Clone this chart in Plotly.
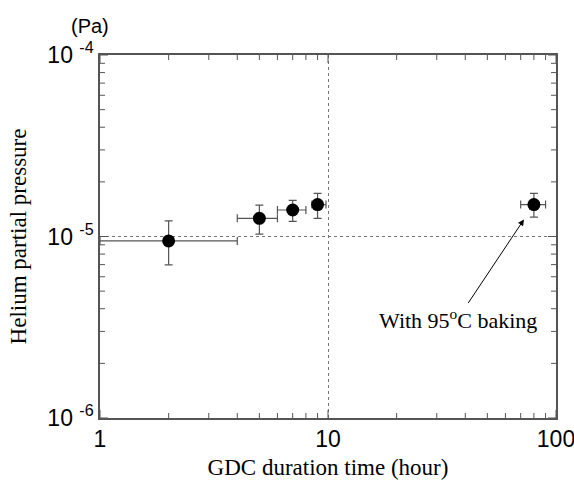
import math
import plotly.graph_objects as go

# Data
gdc_hours = [2, 5, 7, 9, 80]
helium_pa = [9.45e-6, 1.26e-5, 1.40e-5, 1.50e-5, 1.50e-5]
y_err_plus = [2.75e-6, 2.3e-6, 1.8e-6, 2.3e-6, 2.3e-6]
y_err_minus = [2.48e-6, 2.3e-6, 1.9e-6, 2.4e-6, 2.2e-6]
x_err_plus = [2.0, 1.0, 1.0, 0.8, 10.0]
x_err_minus = [1.0, 1.0, 1.0, 0.5, 10.0]

x_range = [1, 100]
y_range = [1e-6, 1e-4]
x_tickvals = [1, 10, 100]
x_ticktext = ["1", "10", "100"]
x_minor = [2, 3, 4, 5, 6, 7, 8, 9, 20, 30, 40, 50, 60, 70, 80, 90]
y_tickvals = [1e-6, 1e-5, 1e-4]
y_ticktext = ["10 <sup>-6</sup>", "10 <sup>-5</sup>", "10 <sup>-4</sup>"]
y_minor = [m * 1e-6 for m in range(2, 10)] + [m * 1e-5 for m in range(2, 10)]

annot_text = "With 95<sup>o</sup>C baking"
annot_point = (80, 1.5e-5)

W, H = 574, 484
M = dict(l=100, r=18, t=55, b=66)
AXIS_COLOR = "#555555"
SANS = "Liberation Sans, Arial, Helvetica, sans-serif"
SERIF = "Liberation Serif, Times New Roman, serif"

lx0, lx1 = math.log10(x_range[0]), math.log10(x_range[1])
ly0, ly1 = math.log10(y_range[0]), math.log10(y_range[1])
# decades per pixel, used to turn a tick length in pixels into axis units
dx = (lx1 - lx0) / (W - M["l"] - M["r"])
dy = (ly1 - ly0) / (H - M["t"] - M["b"])

fig = go.Figure()

# inside tick marks on all four sides, as one line trace with gaps
tx, ty = [], []
for vals, ln in ((x_minor, 5), (x_tickvals, 8)):
    for v in vals:
        tx += [v, v, None, v, v, None]
        ty += [y_range[0], 10 ** (ly0 + ln * dy), None,
               y_range[1], 10 ** (ly1 - ln * dy), None]
for vals, ln in ((y_minor, 5), (y_tickvals, 8)):
    for v in vals:
        tx += [x_range[0], 10 ** (lx0 + ln * dx), None,
               x_range[1], 10 ** (lx1 - ln * dx), None]
        ty += [v, v, None, v, v, None]
fig.add_trace(go.Scatter(x=tx, y=ty, mode="lines", connectgaps=False,
                         line=dict(color=AXIS_COLOR, width=1),
                         hoverinfo="skip", showlegend=False))

fig.add_trace(go.Scatter(
    x=gdc_hours, y=helium_pa, mode="markers",
    marker=dict(size=13, color="black"),
    error_y=dict(type="data", symmetric=False, array=y_err_plus, arrayminus=y_err_minus,
                 color="#555555", thickness=1.2, width=4),
    error_x=dict(type="data", symmetric=False, array=x_err_plus, arrayminus=x_err_minus,
                 color="#555555", thickness=1.2, width=4),
    showlegend=False,
))

fig.add_annotation(
    x=math.log10(annot_point[0]), y=math.log10(annot_point[1]), xref="x", yref="y",
    text=annot_text, showarrow=True, arrowhead=2, arrowsize=1.2, arrowwidth=1,
    arrowcolor="black", ax=-76, ay=114, standoff=18,
    font=dict(family=SERIF, size=22, color="black"),
)

fig.add_annotation(
    x=0, y=1, xref="paper", yref="paper", xanchor="center", yanchor="bottom",
    xshift=-10, yshift=16, text="(Pa)", showarrow=False,
    font=dict(family=SANS, size=20, color="black"),
)

common = dict(
    type="log", ticks="",
    showline=True, linecolor=AXIS_COLOR, linewidth=1.5, mirror=True,
    showgrid=True, gridcolor="#777777", griddash="dot", gridwidth=1,
    zeroline=False, ticklabeloverflow="allow",
    tickfont=dict(family=SANS, size=23, color="black"),
)

fig.update_layout(
    xaxis=dict(
        range=[lx0, lx1], tickmode="array", tickvals=x_tickvals, ticktext=x_ticktext,
        title=dict(text="GDC duration time (hour)",
                   font=dict(family=SERIF, size=23, color="black"), standoff=8),
        **common,
    ),
    yaxis=dict(
        range=[ly0, ly1], tickmode="array", tickvals=y_tickvals, ticktext=y_ticktext,
        title=dict(text="Helium partial pressure",
                   font=dict(family=SERIF, size=23, color="black"), standoff=14),
        **common,
    ),
    width=W, height=H,
    margin=dict(**M, autoexpand=False),
    paper_bgcolor="white", plot_bgcolor="white",
)

fig.write_html("out.html", config={"displayModeBar": False},
               post_script="document.body.style.margin='0px';")
